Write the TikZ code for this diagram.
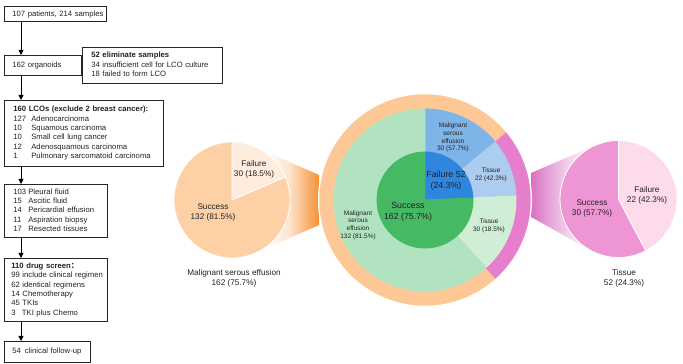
\documentclass[tikz,border=0pt]{standalone}
\usepackage{fontspec}
\setmainfont{Liberation Sans}
\newfontfamily\cjk{Noto Sans CJK SC}
\usetikzlibrary{arrows.meta}
\definecolor{ringO}{HTML}{FDC896}
\definecolor{lpS}{HTML}{FDD0A5}
\definecolor{lpF}{HTML}{FEECDC}
\definecolor{funO}{HTML}{F59132}
\definecolor{ringP}{HTML}{E67DCD}
\definecolor{rpS}{HTML}{EE96D4}
\definecolor{rpF}{HTML}{FDDAEC}
\definecolor{funP}{HTML}{D870C0}
\definecolor{inS}{HTML}{46B964}
\definecolor{inF}{HTML}{2F86DE}
\definecolor{mFa}{HTML}{7FB4E8}
\definecolor{mFb}{HTML}{ACCCF0}
\definecolor{mSb}{HTML}{D0EDD5}
\definecolor{mSa}{HTML}{B2E3C1}
\definecolor{txt}{HTML}{222222}
\pgfdeclarehorizontalshading{funL}{100bp}{color(0bp)=(white); color(45bp)=(white); color(58bp)=(funO!25!white); color(66bp)=(funO!60!white); color(75bp)=(funO); color(100bp)=(funO)}
\pgfdeclarehorizontalshading{funR}{100bp}{color(0bp)=(funP); color(25bp)=(funP); color(32bp)=(funP!75!white); color(45bp)=(funP!35!white); color(60bp)=(white); color(100bp)=(white)}
\newcommand{\lines}[1]{\begin{tabular}{@{}l@{}}#1\end{tabular}}
\begin{document}
\begin{tikzpicture}[x=1pt,y=1pt,
  font=\fontsize{7.7}{9.35}\selectfont,
  box/.style={draw=black!85, line width=0.7pt, anchor=north west, inner xsep=8.5pt, inner ysep=0pt, align=left, text=txt},
  arr/.style={-{Triangle[length=5pt,width=5pt]}, line width=0.9pt, black},
  sm/.style={font=\fontsize{6.5}{7.7}\selectfont, align=center, text=txt, inner sep=0pt},
  md/.style={font=\fontsize{8.2}{10}\selectfont, align=center, text=txt, inner sep=0pt},
  lg/.style={font=\fontsize{8.8}{10.6}\selectfont, align=center, text=txt, inner sep=0pt},
  sep/.style={draw=white, line width=0.9pt}]
\useasboundingbox (0,0) rectangle (683,364);
% ---------- flowchart ----------
\node[box, minimum width=102pt, minimum height=15pt, text width=85pt] (b1) at (3.5,357.5) {\lines{107 patients, 214 samples}};
\node[box, minimum width=77pt, minimum height=20pt, text width=60pt] (b2) at (3.5,309) {\lines{162 organoids}};
\node[box, inner xsep=9pt, minimum width=140pt, minimum height=36pt, text width=122pt] (side) at (82,317)
  {\lines{\textbf{52 eliminate samples}\\34 insufficient cell for LCO culture\\18 failed to form LCO}};
\node[box, inner xsep=9pt, minimum width=159pt, minimum height=66pt, text width=141pt] (b3) at (4,264)
  {\lines{\textbf{160 LCOs (exclude 2 breast cancer):}\\
   \makebox[18pt][l]{127}Adenocarcinoma\\
   \makebox[18pt][l]{10}Squamous carcinoma\\
   \makebox[18pt][l]{10}Small cell lung cancer\\
   \makebox[18pt][l]{12}Adenosquamous carcinoma\\
   \makebox[18pt][l]{1}Pulmonary sarcomatoid carcinoma}};
\node[box, inner xsep=9pt, minimum width=103pt, minimum height=53pt, text width=85pt] (b4) at (4,180)
  {\lines{\makebox[15pt][l]{103}Pleural fluid\\
   \makebox[15pt][l]{15}Ascitic fluid\\
   \makebox[15pt][l]{14}Pericardial effusion\\
   \makebox[15pt][l]{11}Aspiration biopsy\\
   \makebox[15pt][l]{17}Resected tissues}};
\node[box, inner xsep=7pt, minimum width=103pt, minimum height=63pt, text width=89pt] (b5) at (4,106)
  {\lines{\textbf{110 drug screen{\cjk ：}}\\
   99 include clinical regimen\\
   62 identical regimens\\
   14 Chemotherapy\\
   45 TKIs\\
   \makebox[10.6pt][l]{3}TKI plus Chemo}};
\node[box, inner xsep=8pt, minimum width=86pt, minimum height=21pt, text width=70pt] (b6) at (4,23)
  {\lines{54\hspace{4pt}clinical follow-up}};
\coordinate (ax) at (21,0);
\draw[arr] (b1.south -| ax) -- (b2.north -| ax);
\draw[arr] (b2.south -| ax) -- (b3.north -| ax);
\draw[arr] (b3.south -| ax) -- (b4.north -| ax);
\draw[arr] (b4.south -| ax) -- (b5.north -| ax);
\draw[arr] (b5.south -| ax) -- (b6.north -| ax);
\draw[line width=0.7pt, black!85] (b2.east) -- (side.west);
% ---------- funnels ----------
\shade[shading=funL] (255.4,217.1) -- (319,189) -- (319,139) -- (255.4,110.9) -- (232,164) -- cycle;
\shade[shading=funR] (531,191) -- (595.4,218.7) -- (618.5,165) -- (589.9,114.0) -- (531,147) -- cycle;
% ---------- left pie ----------
\coordinate (lp) at (232,164);
\begin{scope}[shift={(lp)}]
\fill[lpS] (0,0) -- (23.33:58) arc (23.33:-270:58) -- cycle;
\fill[lpF] (0,0) -- (90:58) arc (90:23.33:58) -- cycle;
\draw[sep] (0,0) -- (90:58) (0,0) -- (23.33:58);
\draw[draw=white, line width=0.8pt] (0,0) circle (58);
\end{scope}
\node[md] (lpf) at (254,194.5) {Failure\\30 (18.5\%)};
\node[md] (lps) at (213,152) {Success\\132 (81.5\%)};
\node[md] (lpt) at (234,86) {Malignant serous effusion\\162 (75.7\%)};
% ---------- donut ----------
\coordinate (dc) at (425,164);
\begin{scope}[shift={(dc)}, every path/.style={draw=white, line width=0.9pt}]
\fill[ringO] (39.53:91) arc (39.53:312.05:91) -- (312.05:106) arc (312.05:39.53:106) -- cycle;
\fill[ringP] (-47.95:91) arc (-47.95:39.53:91) -- (39.53:106) arc (39.53:-47.95:106) -- cycle;
\fill[mFa] (39.53:48) arc (39.53:90:48) -- (90:91) arc (90:39.53:91) -- cycle;
\fill[mFb] (2.52:48) arc (2.52:39.53:48) -- (39.53:91) arc (39.53:2.52:91) -- cycle;
\fill[mSb] (-47.95:48) arc (-47.95:2.52:48) -- (2.52:91) arc (2.52:-47.95:91) -- cycle;
\fill[mSa] (90:48) arc (90:312.05:48) -- (312.05:91) arc (312.05:90:91) -- cycle;
\fill[inF] (0,0) -- (2.52:48) arc (2.52:90:48) -- cycle;
\fill[inS] (0,0) -- (90:48) arc (90:362.52:48) -- cycle;
\draw[line width=1.3pt] (0,0) circle (106.4);
\end{scope}
\node[sm] (dmf) at (453,226.5) {Malignant\\serous\\effusion\\30 (57.7\%)};
\node[sm] (dtf) at (491,189) {Tissue\\22 (42.3\%)};
\node[lg] (dif) at (446,183.5) {Failure 52\\(24.3\%)};
\node[lg] (dis) at (408,152) {Success\\162 (75.7\%)};
\node[sm] (dts) at (489,138.5) {Tissue\\30 (18.5\%)};
\node[sm] (dms) at (358,139) {Malignant\\serous\\effusion\\132 (81.5\%)};
% ---------- right pie ----------
\coordinate (rp) at (618.5,165);
\begin{scope}[shift={(rp)}]
\fill[rpS] (0,0) -- (-62.3:58.5) arc (-62.3:-270:58.5) -- cycle;
\fill[rpF] (0,0) -- (90:58.5) arc (90:-62.3:58.5) -- cycle;
\draw[sep] (0,0) -- (90:58.5) (0,0) -- (-62.3:58.5);
\draw[draw=white, line width=0.8pt] (0,0) circle (58.5);
\end{scope}
\node[md] (rpf) at (647,169) {Failure\\22 (42.3\%)};
\node[md] (rps) at (592,155.5) {Success\\30 (57.7\%)};
\node[md] (rpt) at (624,86) {Tissue\\52 (24.3\%)};
\end{tikzpicture}
\end{document}
